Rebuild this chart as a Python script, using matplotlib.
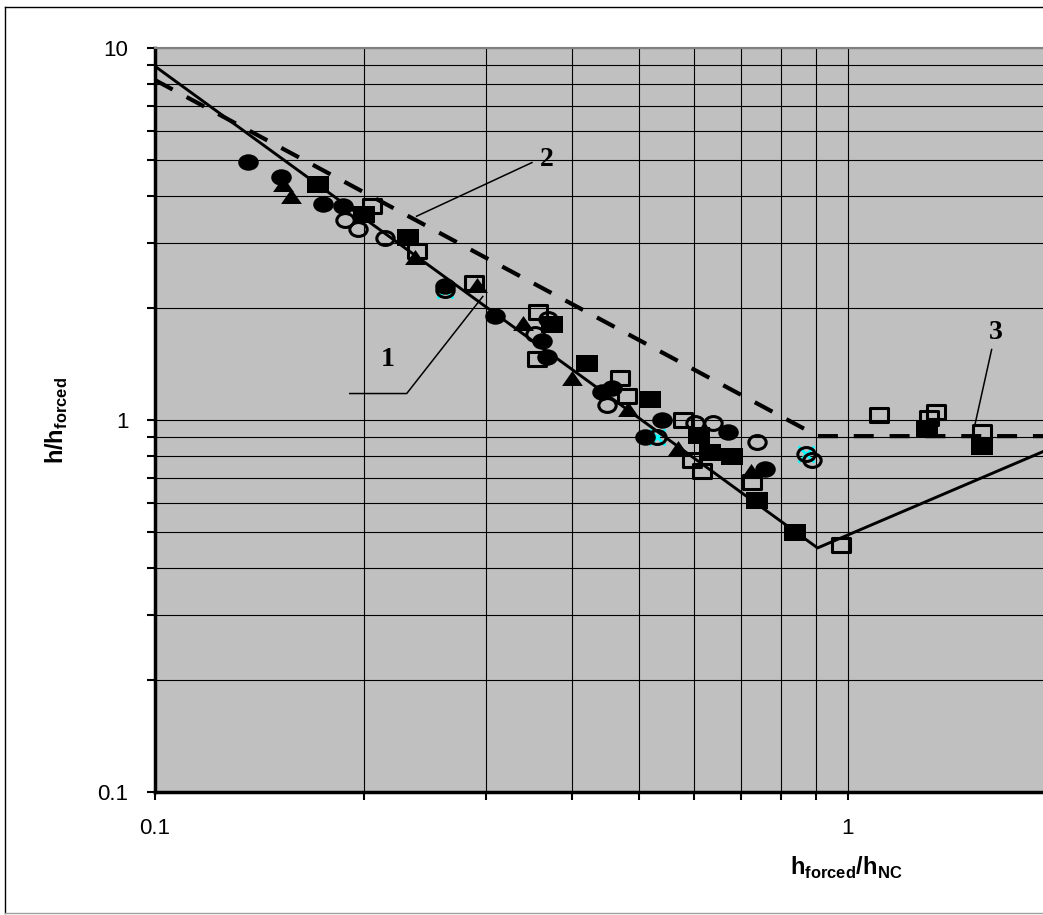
import matplotlib
matplotlib.use("Agg")
import matplotlib.pyplot as plt
from matplotlib.path import Path
from matplotlib.lines import Line2D
from matplotlib.ticker import LogLocator, FixedLocator, FixedFormatter, NullFormatter

plt.rcParams['font.family'] = ['Liberation Sans', 'DejaVu Sans']
plt.rcParams['mathtext.fontset'] = 'custom'
plt.rcParams['mathtext.rm'] = 'Liberation Sans'
plt.rcParams['mathtext.bf'] = 'Liberation Sans:bold'

# ---- measured data: x = h_forced/h_NC, y = h/h_forced ----
filled_circle_x = [0.136, 0.152, 0.175, 0.187, 0.262, 0.309, 0.362, 0.368,
                   0.441, 0.456, 0.539, 0.671, 0.509, 0.758]
filled_circle_y = [4.95, 4.51, 3.80, 3.77, 2.29, 1.90, 1.63, 1.48,
                   1.19, 1.22, 1.00, 0.93, 0.90, 0.74]

open_circle_x = [0.188, 0.196, 0.215, 0.262, 0.369, 0.353, 0.449, 0.601,
                 0.638, 0.739, 0.531, 0.869, 0.886]
open_circle_y = [3.44, 3.27, 3.09, 2.23, 1.87, 1.70, 1.10, 0.98,
                 0.98, 0.875, 0.90, 0.81, 0.78]

filled_square_x = [0.172, 0.200, 0.232, 0.374, 0.420, 0.518, 0.609, 0.632,
                   0.680, 0.739, 0.838, 1.30, 1.56]
filled_square_y = [4.30, 3.59, 3.11, 1.81, 1.42, 1.14, 0.91, 0.82,
                   0.80, 0.61, 0.50, 0.95, 0.85]

open_square_x = [0.206, 0.239, 0.289, 0.357, 0.356, 0.469, 0.480, 0.578,
                 0.595, 0.615, 0.726, 0.976, 1.11, 1.31, 1.34, 1.56]
open_square_y = [3.75, 2.84, 2.34, 1.95, 1.46, 1.30, 1.16, 1.00,
                 0.78, 0.73, 0.68, 0.46, 1.03, 1.01, 1.05, 0.93]

triangle_x = [0.153, 0.157, 0.237, 0.292, 0.340, 0.400, 0.481, 0.568, 0.724]
triangle_y = [4.32, 3.99, 2.75, 2.30, 1.82, 1.30, 1.07, 0.84, 0.73]

cross_x = [0.262, 0.531, 0.869]
cross_y = [2.23, 0.90, 0.81]

# correlation curves
curve1_x = [0.1, 0.904, 1.92]
curve1_y = [8.93, 0.453, 0.825]
curve2_x = [0.1, 0.905, 1.95]
curve2_y = [8.2, 0.905, 0.905]

x_tick_values = [0.1, 1]
x_tick_labels = ['0.1', '1']
y_tick_values = [0.1, 1, 10]
y_tick_labels = ['0.1', '1', '10']

# ---- figure ----
W, H = 1043, 915
fig = plt.figure(figsize=(W / 100, H / 100), dpi=100)
ax = fig.add_axes([155 / W, (H - 792) / H, (W - 155) / W, 744 / H])
ax.set_facecolor('#C0C0C0')
ax.set_xscale('log')
ax.set_yscale('log')
ax.set_xlim(0.1, 1.912)
ax.set_ylim(0.1, 10)

ax.xaxis.set_major_locator(FixedLocator(x_tick_values))
ax.xaxis.set_major_formatter(FixedFormatter(x_tick_labels))
ax.yaxis.set_major_locator(FixedLocator(y_tick_values))
ax.yaxis.set_major_formatter(FixedFormatter(y_tick_labels))
ax.xaxis.set_minor_locator(LogLocator(base=10, subs=range(2, 10)))
ax.yaxis.set_minor_locator(LogLocator(base=10, subs=range(2, 10)))
ax.xaxis.set_minor_formatter(NullFormatter())
ax.yaxis.set_minor_formatter(NullFormatter())

ax.grid(True, which='both', color='black', linewidth=0.8, zorder=0)
ax.set_axisbelow(True)
ax.tick_params(which='both', direction='out', length=6, width=1.5,
               color='black', labelsize=16, pad=13)

ax.spines['left'].set_linewidth(2.5)
ax.spines['bottom'].set_linewidth(2.5)
ax.spines['top'].set_color('#808080')
ax.spines['top'].set_linewidth(1.5)
ax.spines['right'].set_visible(False)

# marker shapes, slightly wider than tall
ellipse = Path.unit_circle()
ellipse = Path(ellipse.vertices * [1.0, 0.8], ellipse.codes)
rect = Path([(-1, -0.8), (1, -0.8), (1, 0.8), (-1, 0.8), (-1, -0.8)],
            [Path.MOVETO, Path.LINETO, Path.LINETO, Path.LINETO, Path.CLOSEPOLY])
tri = Path([(0, 0.72), (-1, -0.72), (1, -0.72), (0, 0.72)],
           [Path.MOVETO, Path.LINETO, Path.LINETO, Path.CLOSEPOLY])

ax.plot(cross_x, cross_y, ls='none', marker='x', ms=12, mew=2,
        color='#00FFFF', zorder=3)
ax.plot(open_circle_x, open_circle_y, ls='none', marker=ellipse, ms=12.5,
        mfc='none', mec='black', mew=2.2, zorder=3.5)
ax.plot(open_square_x, open_square_y, ls='none', marker=rect, ms=12.5,
        mfc='none', mec='black', mew=2.2, zorder=3.7)
ax.plot(filled_circle_x, filled_circle_y, ls='none', marker=ellipse, ms=14.8,
        mfc='black', mec='black', mew=0, zorder=4)
ax.plot(filled_square_x, filled_square_y, ls='none', marker=rect, ms=15.3,
        mfc='black', mec='black', mew=0, zorder=4.5)
ax.plot(triangle_x, triangle_y, ls='none', marker=tri, ms=15,
        mfc='black', mec='black', mew=0, zorder=5)

ax.plot(curve1_x, curve1_y, color='black', lw=2.1, zorder=6)
ax.plot(curve2_x, curve2_y, color='black', lw=3, ls=(0, (4.8, 3.8)), zorder=6)

# curve labels with leader lines
lab_font = dict(family=['Liberation Serif', 'DejaVu Serif'], weight='bold',
                size=20, ha='center', va='center')
ax.text(0.217, 1.455, '1', **lab_font)
ax.plot([0.191, 0.2308, 0.2972], [1.178, 1.178, 2.148], color='black', lw=1.1, zorder=6)
ax.text(0.3675, 5.02, '2', **lab_font)
ax.plot([0.2385, 0.3499], [3.53, 4.92], color='black', lw=1.1, zorder=6)
ax.text(1.633, 1.72, '3', **lab_font)
ax.plot([1.612, 1.523], [1.547, 0.961], color='black', lw=1.1, zorder=6)

# axis titles
fig.text(846 / W, 1 - 868 / H, r'$\mathbf{h}_{\mathbf{forced}}\mathbf{/h}_{\mathbf{NC}}$',
         ha='center', va='center', fontsize=17)
fig.text(57 / W, 1 - 421 / H, r'$\mathbf{h/h}_{\mathbf{forced}}$',
         ha='center', va='center', fontsize=17, rotation=90)

# outer frame
fig.add_artist(Line2D([5 / W, 1], [1 - 6.5 / H, 1 - 6.5 / H], color='black', lw=1,
                      transform=fig.transFigure))
fig.add_artist(Line2D([5 / W, 5 / W], [1 - 6.5 / H, 1 - 913 / H], color='black', lw=1,
                      transform=fig.transFigure))
fig.add_artist(Line2D([5 / W, 1], [1 - 913 / H, 1 - 913 / H], color='#A0A0A0', lw=1,
                      transform=fig.transFigure))

fig.savefig('out.png', dpi=100)
